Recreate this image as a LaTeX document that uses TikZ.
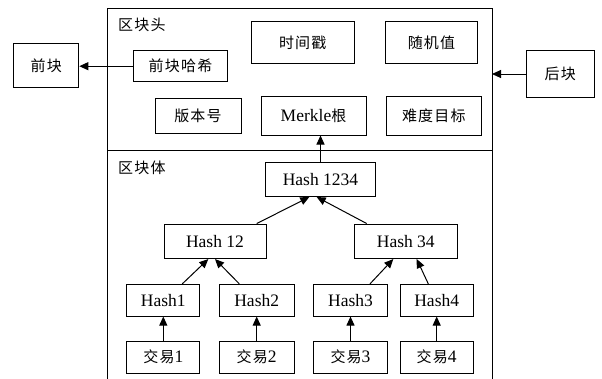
\documentclass[tikz,border=0pt]{standalone}
\usepackage{fontspec}
\setmainfont{Liberation Serif}
\newfontfamily\cjk[LetterSpace=8]{Noto Sans CJK SC}
\usetikzlibrary{arrows.meta,calc}

\tikzset{
  box/.style={draw, line width=1pt, inner sep=0pt, align=center,
    font=\fontsize{17.5}{19}\selectfont},
  link/.style={line width=1pt, -{Triangle[length=9pt,width=8pt]}},
  part/.style={anchor=west, inner sep=0pt, font=\fontsize{15}{17}\selectfont\cjk},
}
\newcommand{\zh}[1]{{\fontsize{15}{17}\selectfont\cjk #1}}

\begin{document}
\begin{tikzpicture}[x=1pt, y=-1pt]
  \useasboundingbox (0,0) rectangle (602,378);

  % outer block frame (continues past the lower edge)
  \draw[line width=1pt] (107,380) -- (107,8) -- (492,8) -- (492,380);
  \draw[line width=1pt] (107,150) -- (492,150);
  \coordinate (frameR) at (492,74);

  \node[part] (headlbl) at (118,25) {区块头};
  \node[part] (bodylbl) at (118,168) {区块体};

  % block header fields
  \node[box, minimum width=65pt, minimum height=44pt] (prev) at (46.3,65.3) {\zh{前块}};
  \node[box, minimum width=94pt, minimum height=31pt] (prevhash) at (180.5,66.2) {\zh{前块哈希}};
  \node[box, minimum width=103pt, minimum height=42pt] (time) at (302.7,42.8) {\zh{时间戳}};
  \node[box, minimum width=91.5pt, minimum height=42pt] (nonce) at (431.5,42.8) {\zh{随机值}};
  \node[box, minimum width=86pt, minimum height=35pt] (version) at (198,115.8) {\zh{版本号}};
  \node[box, minimum width=105pt, minimum height=39pt] (merkle) at (313.5,115.5) {Merkle\zh{根}};
  \node[box, minimum width=95.5pt, minimum height=39pt] (target) at (433.8,115.5) {\zh{难度目标}};
  \node[box, minimum width=68.5pt, minimum height=46.5pt] (next) at (560.3,74) {\zh{后块}};

  % Merkle tree in the block body
  \node[box, minimum width=109.5pt, minimum height=34pt] (h1234) at (320.5,179.5) {Hash 1234};
  \node[box, minimum width=102pt, minimum height=34.5pt] (h12) at (215,241.3) {Hash 12};
  \node[box, minimum width=103pt, minimum height=34.5pt] (h34) at (405.8,241.3) {Hash 34};

  \node[box, minimum width=73.3pt, minimum height=31.7pt] (hash1) at (163.3,300.2) {Hash1};
  \node[box, minimum width=75.3pt, minimum height=31.7pt] (hash2) at (256.7,300.2) {Hash2};
  \node[box, minimum width=74.3pt, minimum height=31.7pt] (hash3) at (350.5,300.2) {Hash3};
  \node[box, minimum width=73.3pt, minimum height=31.7pt] (hash4) at (436.7,300.2) {Hash4};

  \node[box, minimum width=73.3pt, minimum height=32.3pt] (tx1) at (163.3,357.2) {\zh{交易}1};
  \node[box, minimum width=75.3pt, minimum height=32.3pt] (tx2) at (256.7,357.2) {\zh{交易}2};
  \node[box, minimum width=74.3pt, minimum height=32.3pt] (tx3) at (350.5,357.2) {\zh{交易}3};
  \node[box, minimum width=73.3pt, minimum height=32.3pt] (tx4) at (436.7,357.2) {\zh{交易}4};

  % links
  \draw[link] (prevhash.west) -- (prevhash.west -| prev.east);
  \draw[link] (next.west) -- (next.west -| frameR);
  \draw[link] (h1234.north) -- (h1234.north |- merkle.south);

  \draw[link] ([xshift=41.7pt]h12.north) -- ([xshift=-11.2pt]h1234.south);
  \draw[link] ([xshift=-39.1pt]h34.north) -- ([xshift=-3.8pt]h1234.south);

  \draw[link] ([xshift=19pt]hash1.north) -- ([xshift=-6.7pt]h12.south);
  \draw[link] ([xshift=-17.4pt]hash2.north) -- ([xshift=0pt]h12.south);
  \draw[link] ([xshift=19.5pt]hash3.north) -- ([xshift=-12.5pt]h34.south);
  \draw[link] ([xshift=-8.4pt]hash4.north) -- ([xshift=10.9pt]h34.south);

  \draw[link] (tx1.north) -- (hash1.south);
  \draw[link] (tx2.north) -- (hash2.south);
  \draw[link] (tx3.north) -- (hash3.south);
  \draw[link] (tx4.north) -- (hash4.south);
\end{tikzpicture}
\end{document}
